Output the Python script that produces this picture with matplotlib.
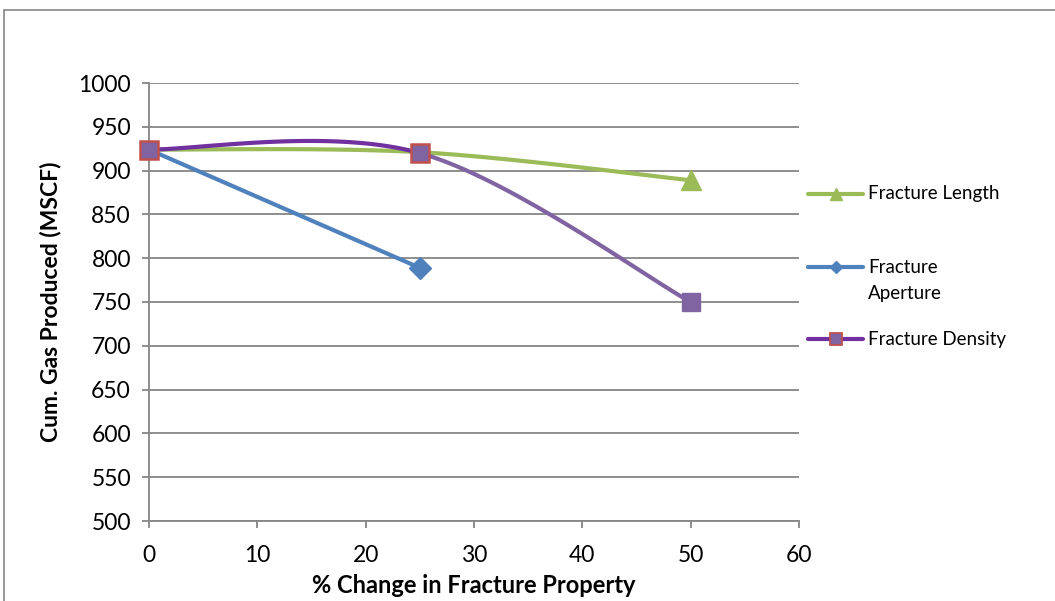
import numpy as np
import matplotlib
matplotlib.use("Agg")
import matplotlib.pyplot as plt
from matplotlib.lines import Line2D
from matplotlib.patches import Rectangle

plt.rcParams['font.family'] = ['Lato', 'DejaVu Sans']

# Data
x_length = [0, 25, 50]
y_length = [924, 921, 889]
x_aperture = [0, 25]
y_aperture = [924, 789]
x_density = [0, 25, 50]
y_density = [924, 920, 750]

x_ticks = [0, 10, 20, 30, 40, 50, 60]
y_ticks = [500, 550, 600, 650, 700, 750, 800, 850, 900, 950, 1000]

GREEN = '#9BBB59'
BLUE = '#4F81BD'
PURPLE_DARK = '#7030A0'
PURPLE = '#8064A2'
RED = '#C0504D'
GRID = '#868686'

W, H = 1055, 601


def smooth_segments(xs, ys, n=60):
    """Excel-style smoothed line (Catmull-Rom cubic Bezier) segments."""
    pts = np.column_stack([xs, ys]).astype(float)
    m = len(pts)
    segs = []
    for i in range(m - 1):
        p0 = pts[i - 1] if i > 0 else pts[i]
        p1 = pts[i]
        p2 = pts[i + 1]
        p3 = pts[i + 2] if i + 2 < m else pts[i + 1]
        b1 = p1 + (p2 - p0) / 6.0
        b2 = p2 - (p3 - p1) / 6.0
        t = np.linspace(0, 1, n)[:, None]
        c = ((1 - t) ** 3) * p1 + 3 * ((1 - t) ** 2) * t * b1 + 3 * (1 - t) * t ** 2 * b2 + t ** 3 * p2
        segs.append(c)
    return segs


fig = plt.figure(figsize=(W / 100, H / 100), dpi=100)
ax = fig.add_axes([149 / W, 1 - 521 / H, 650 / W, 438 / H])

# outer chart border
fig.patches.append(Rectangle((4 / W, -0.1), 1.2, 1 - 10 / H + 0.1,
                             transform=fig.transFigure, fill=False,
                             edgecolor=GRID, linewidth=1.2, zorder=0))

lw = 3.0
# Fracture Length
for seg in smooth_segments(x_length, y_length):
    ax.plot(seg[:, 0], seg[:, 1], color=GREEN, lw=lw, solid_capstyle='round', zorder=3)
ax.plot(x_length[-1:], y_length[-1:], linestyle='none', marker='^', ms=14,
        color=GREEN, zorder=4, clip_on=False)

# Fracture Aperture
ax.plot(x_aperture, y_aperture, color=BLUE, lw=lw, solid_capstyle='round', zorder=3)
ax.plot(x_aperture[-1:], y_aperture[-1:], linestyle='none', marker='D', ms=11,
        color=BLUE, zorder=4, clip_on=False)

# Fracture Density
dsegs = smooth_segments(x_density, y_density)
seg_colors = [PURPLE_DARK, PURPLE]
for seg, c in zip(dsegs, seg_colors):
    ax.plot(seg[:, 0], seg[:, 1], color=c, lw=lw, solid_capstyle='round', zorder=5)
ax.plot(x_density[:2], y_density[:2], linestyle='none', marker='s', ms=13,
        markerfacecolor=PURPLE, markeredgecolor=RED, markeredgewidth=1.8, zorder=6,
        clip_on=False)
ax.plot(x_density[2:], y_density[2:], linestyle='none', marker='s', ms=13,
        markerfacecolor=PURPLE, markeredgecolor=PURPLE, zorder=6, clip_on=False)

ax.set_xlim(0, 60)
ax.set_ylim(500, 1000)
ax.set_xticks(x_ticks)
ax.set_yticks(y_ticks)
ax.grid(axis='y', color=GRID, lw=1.3)
ax.set_axisbelow(True)
for s in ['top', 'right']:
    ax.spines[s].set_visible(False)
for s in ['left', 'bottom']:
    ax.spines[s].set_color(GRID)
    ax.spines[s].set_linewidth(1.3)
ax.tick_params(axis='both', direction='out', color=GRID, width=1.3, length=5,
               labelsize=16.5, colors='black')
ax.tick_params(axis='x', pad=12)
ax.tick_params(axis='y', pad=8)

ax.set_xlabel('% Change in Fracture Property', fontsize=17, fontweight='bold', labelpad=6)
ax.set_ylabel('Cum. Gas Produced (MSCF)', fontsize=16.5, fontweight='bold', labelpad=12)

# Manual legend (Excel-style)
leg_items = [
    (194, dict(color=GREEN, marker='^', ms=8, markerfacecolor=GREEN, markeredgecolor=GREEN),
     GREEN, ['Fracture Length']),
    (267, dict(color=BLUE, marker='D', ms=6, markerfacecolor=BLUE, markeredgecolor=BLUE),
     BLUE, ['Fracture', 'Aperture']),
    (339, dict(color=PURPLE, marker='s', ms=8, markerfacecolor=PURPLE, markeredgecolor=RED,
               markeredgewidth=1.3),
     PURPLE_DARK, ['Fracture Density']),
]
x0, x1, xt = 808, 863, 868
for ypix, mk, lc, lines in leg_items:
    yf = 1 - ypix / H
    fig.add_artist(Line2D([x0 / W, x1 / W], [yf, yf], transform=fig.transFigure,
                          color=lc, lw=lw, solid_capstyle='round'))
    fig.add_artist(Line2D([(x0 + x1) / 2 / W], [yf], transform=fig.transFigure,
                          linestyle='none', **mk))
    for k, txt in enumerate(lines):
        fig.text(xt / W, 1 - (ypix + 26 * k) / H, txt, fontsize=13.5,
                 va='center', ha='left')

fig.savefig('out.png', dpi=100)
